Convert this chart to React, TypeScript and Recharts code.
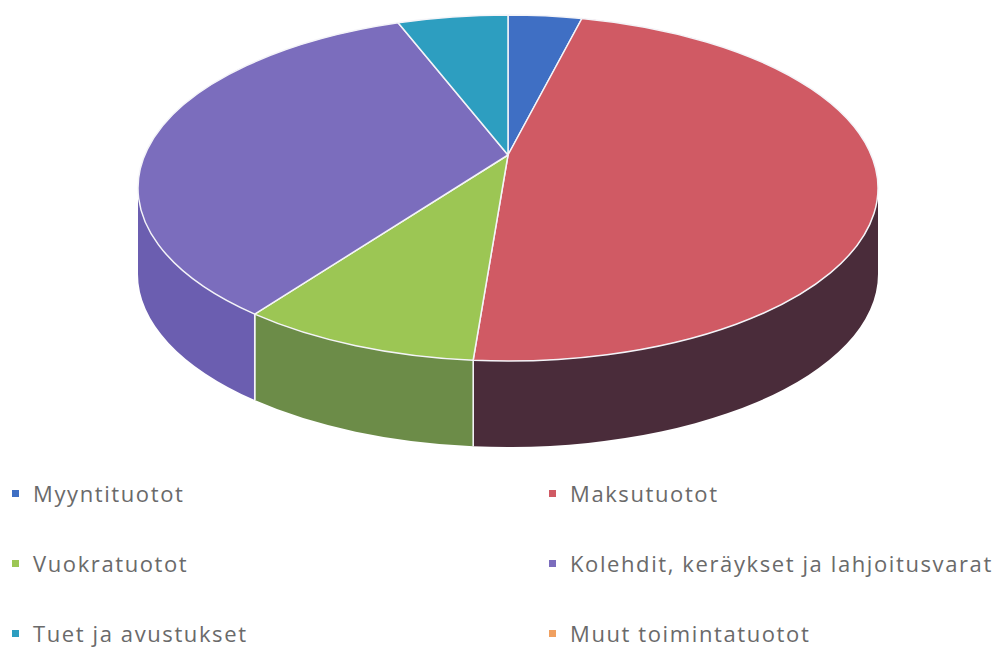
import { PieChart, Pie, Cell, Legend } from 'recharts';

// slices clockwise from 12 o'clock
const categories = [
  'Myyntituotot',
  'Maksutuotot',
  'Vuokratuotot',
  'Kolehdit, keräykset ja lahjoitusvarat',
  'Tuet ja avustukset',
  'Muut toimintatuotot',
];
const values = [3.2, 48.3, 10.5, 33.2, 4.8, 0];
const topColors = ['#3f6fc4', '#d05a64', '#9cc654', '#7b6dbd', '#2d9ec0', '#f0a060'];
const sideColors = ['#2f4f8a', '#4a2c3a', '#6c8c48', '#6b5eb0', '#217a94', '#b07040'];

const data = categories.map((name, i) => ({ name, value: values[i], side: sideColors[i] }));

// 3d look
const RY_RATIO = 173 / 370;
const DEPTH = 86;
const APEX_LIFT = 33;

const rim = (cx: number, cy: number, rx: number, ry: number, deg: number) => {
  const r = (deg * Math.PI) / 180;
  return [cx + rx * Math.cos(r), cy - ry * Math.sin(r)];
};

function TopShape(props: any) {
  const { cx, cy, outerRadius, startAngle, endAngle, fill } = props;
  if (Math.abs(startAngle - endAngle) < 0.01) return null;
  const rx = outerRadius;
  const ry = outerRadius * RY_RATIO;
  const [x1, y1] = rim(cx, cy, rx, ry, startAngle);
  const [x2, y2] = rim(cx, cy, rx, ry, endAngle);
  const large = Math.abs(startAngle - endAngle) > 180 ? 1 : 0;
  const sweep = startAngle > endAngle ? 1 : 0;
  const d = `M${cx},${cy - APEX_LIFT} L${x1},${y1} A${rx},${ry} 0 ${large} ${sweep} ${x2},${y2} Z`;
  return <path d={d} fill={fill} stroke="#f4f4f8" strokeWidth={1.5} strokeLinejoin="round" />;
}

function SideShape(props: any) {
  const { cx, cy, outerRadius, startAngle, endAngle, payload } = props;
  if (Math.abs(startAngle - endAngle) < 0.01) return null;
  const rx = outerRadius;
  const ry = outerRadius * RY_RATIO;
  // only the front half of the rim (-180..0) shows a wall
  const b = Math.min(startAngle, 0);
  const a = Math.max(endAngle, -180);
  if (b <= a) return null;
  const [x1, y1] = rim(cx, cy, rx, ry, b);
  const [x2, y2] = rim(cx, cy, rx, ry, a);
  const d = `M${x1},${y1} A${rx},${ry} 0 0 1 ${x2},${y2} L${x2},${y2 + DEPTH} A${rx},${ry} 0 0 0 ${x1},${y1 + DEPTH} Z`;
  const edges = [startAngle, endAngle].filter((t) => t < -0.5 && t > -179.5);
  return (
    <g>
      <path d={d} fill={payload.side} stroke="none" />
      {edges.map((t) => {
        const [ex, ey] = rim(cx, cy, rx, ry, t);
        return <line key={t} x1={ex} y1={ey} x2={ex} y2={ey + DEPTH} stroke="#f4f4f8" strokeWidth={1.5} />;
      })}
    </g>
  );
}

// two columns, same order as the slices
function LegendGrid() {
  return (
    <div
      style={{
        display: 'grid',
        gridTemplateColumns: '537px 462px',
        gridAutoRows: '70px',
        fontFamily: '"Open Sans", sans-serif',
        fontSize: 22,
        letterSpacing: 1.6,
        color: '#6a6a6a',
      }}
    >
      {categories.map((name, i) => (
        <div key={name} style={{ display: 'flex', alignItems: 'center', paddingLeft: 12 }}>
          <span style={{ width: 7, height: 7, background: topColors[i], marginRight: 14, flex: 'none' }} />
          <span style={{ whiteSpace: 'nowrap' }}>{name}</span>
        </div>
      ))}
    </div>
  );
}

export default function App() {
  return (
    <div style={{ position: 'absolute', left: 0, top: 0, width: 999, height: 647, background: '#fff' }}>
      <PieChart width={999} height={647}>
        <Pie
          data={data}
          dataKey="value"
          nameKey="name"
          cx={503}
          cy={183}
          outerRadius={370}
          startAngle={90}
          endAngle={-270}
          legendType="none"
          shape={SideShape}
          isAnimationActive={false}
        >
          {data.map((d, i) => (
            <Cell key={d.name} fill={sideColors[i]} />
          ))}
        </Pie>
        <Pie
          data={data}
          dataKey="value"
          nameKey="name"
          cx={503}
          cy={183}
          outerRadius={370}
          startAngle={90}
          endAngle={-270}
          legendType="square"
          shape={TopShape}
          isAnimationActive={false}
        >
          {data.map((d, i) => (
            <Cell key={d.name} fill={topColors[i]} />
          ))}
        </Pie>
        <Legend content={LegendGrid} wrapperStyle={{ top: 458, left: 0, width: 999 }} />
      </PieChart>
    </div>
  );
}
